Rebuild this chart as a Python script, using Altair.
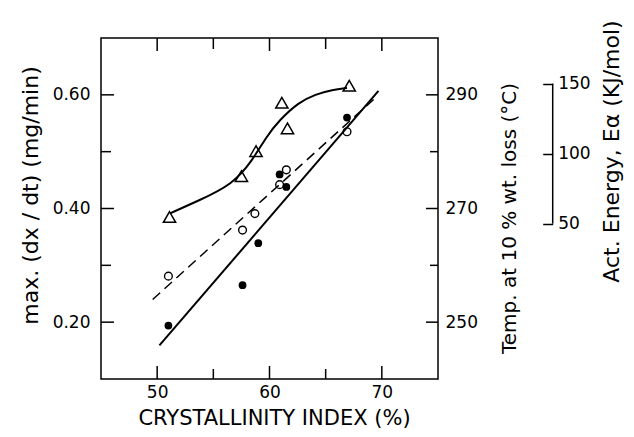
import altair as alt
import pandas as pd

# ---------------- data ----------------
tri_x = [51.1, 57.5, 58.8, 61.1, 61.6, 67.1]
tri_y = [0.385, 0.457, 0.501, 0.586, 0.541, 0.616]

filled_x = [51.0, 57.6, 59.0, 60.9, 61.5, 66.9]
filled_y = [0.194, 0.265, 0.339, 0.460, 0.438, 0.560]

open_x = [51.0, 57.6, 58.7, 60.9, 61.5, 66.9]
open_y = [0.281, 0.362, 0.391, 0.442, 0.468, 0.535]

curve_x = [51.2, 53.7, 56.7, 58.5, 59.7, 60.9, 62.6, 64.1, 65.6, 66.9]
curve_y = [0.392, 0.414, 0.442, 0.485, 0.526, 0.556, 0.587, 0.601, 0.609, 0.612]

solid_x = [50.2, 69.7]
solid_y = [0.159, 0.607]

dash_x = [49.6, 69.5]
dash_y = [0.240, 0.596]

x_major = [50, 60, 70]
x_minor = [55, 65]
y_major = [0.20, 0.40, 0.60]
y_minor = [0.30, 0.50]
temp_major = [250, 270, 290]
temp_minor = [260, 280]
energy_ticks = [50, 100, 150]

# ---------------- layout ----------------
W, H = 337, 341
FONT = "DejaVu Sans"
LBL = 17

xs = alt.Scale(domain=[45, 75], nice=False, zero=False)
ys = alt.Scale(domain=[0.1, 0.7], nice=False, zero=False)
ts = alt.Scale(domain=[240, 300], nice=False, zero=False)
es = alt.Scale(domain=[-60.9, 182.6], nice=False, zero=False)

common = dict(labelFont=FONT, labelFontSize=LBL, labelColor="black",
              titleFont=FONT, titleFontWeight="normal",
              titleColor="black", grid=False, domain=False)

x_axis = alt.Axis(orient="bottom", values=x_major, format="d", ticks=False, labelPadding=5,
                  title="CRYSTALLINITY INDEX (%)", titleFontSize=21, titleX=173, titleY=45,
                  titleAlign="center", titleBaseline="alphabetic", **common)
y_axis = alt.Axis(orient="left", values=y_major, format=".2f", ticks=False,
                  labelPadding=11, title="max.  (dx / dt)  (mg/min)", titleFontSize=22,
                  titleAngle=270, titleX=-71, titleY=157, titleAlign="center",
                  titleBaseline="middle", **common)
t_axis = alt.Axis(orient="right", values=temp_major, format="d", ticks=False,
                  labelPadding=7, title="Temp. at 10 % wt. loss (°C)", titleFontSize=20,
                  titleAngle=270, titleX=71, titleY=180, titleAlign="center",
                  titleBaseline="middle", **common)
e_axis = alt.Axis(orient="right", offset=104.7, values=energy_ticks, format="d",
                  ticks=True, tickSize=10, tickWidth=1.5, tickColor="black",
                  labelPadding=5, title="Act. Energy, Eα (KJ/mol)", titleFontSize=22,
                  titleAngle=270, titleX=69, titleY=113, titleAlign="center",
                  titleBaseline="middle", **common)

XE = alt.X("x:Q", scale=xs, axis=x_axis)
YE = alt.Y("y:Q", scale=ys, axis=y_axis)

df_tri = pd.DataFrame({"x": tri_x, "y": tri_y})
df_fill = pd.DataFrame({"x": filled_x, "y": filled_y})
df_open = pd.DataFrame({"x": open_x, "y": open_y})
df_curve = pd.DataFrame({"x": curve_x, "y": curve_y})
df_solid = pd.DataFrame({"x": solid_x, "y": solid_y})
df_dash = pd.DataFrame({"x": dash_x, "y": dash_y})

curve = alt.Chart(df_curve).mark_line(color="black", strokeWidth=2, interpolate="basis").encode(x=XE, y=YE)
solid = alt.Chart(df_solid).mark_line(color="black", strokeWidth=2).encode(x=XE, y=YE)
dash = alt.Chart(df_dash).mark_line(color="black", strokeWidth=1.5, strokeDash=[10, 6]).encode(x=XE, y=YE)
tri = alt.Chart(df_tri).mark_point(shape="triangle-up", size=150, filled=False, color="black",
                                   strokeWidth=1.5, opacity=1).encode(x=XE, y=YE)
opn = alt.Chart(df_open).mark_point(shape="circle", size=60, filled=False, color="black",
                                    strokeWidth=1.4, opacity=1).encode(x=XE, y=YE)
fil = alt.Chart(df_fill).mark_point(shape="circle", size=60, filled=True, color="black",
                                    opacity=1).encode(x=XE, y=YE)

def xticks(vals, y0, y1):
    return alt.Chart(pd.DataFrame({"x": vals})).mark_rule(color="black", strokeWidth=1.5).encode(
        x=XE, y=alt.value(y0), y2=alt.value(y1))

def yticks(vals, x0, x1):
    return alt.Chart(pd.DataFrame({"y": vals})).mark_rule(color="black", strokeWidth=1.5).encode(
        y=YE, x=alt.value(x0), x2=alt.value(x1))

main = alt.layer(
    curve, solid, dash, tri, opn, fil,
    xticks(x_major, H - 13, H), xticks(x_minor, H - 10, H),
    xticks(x_major, 0, 13), xticks(x_minor, 0, 11),
    yticks(y_major, 0, 13), yticks(y_minor, 0, 10),
)

TE = alt.Y("t:Q", scale=ts, axis=t_axis)
temp = alt.layer(
    alt.Chart(pd.DataFrame({"t": temp_major})).mark_rule(color="black", strokeWidth=1.5).encode(
        y=TE, x=alt.value(W - 12), x2=alt.value(W)),
    alt.Chart(pd.DataFrame({"t": temp_minor})).mark_rule(color="black", strokeWidth=1.5).encode(
        y=TE, x=alt.value(W - 8), x2=alt.value(W)),
)

df_espan = pd.DataFrame({"lo": [min(energy_ticks)], "hi": [max(energy_ticks)]})
energy = alt.Chart(df_espan).mark_rule(color="black", strokeWidth=1.5).encode(
    y=alt.Y("lo:Q", scale=es, axis=e_axis), y2="hi:Q", x=alt.value(W + 114.7))

chart = alt.layer(main, temp, energy).resolve_scale(y="independent").properties(
    width=W, height=H,
    background="white",
    autosize=alt.AutoSizeParams(type="none"),
    padding={"left": 93, "top": 30, "right": 188, "bottom": 50},
).configure_view(stroke="black", strokeWidth=1.5)

chart.save("out.html", embed_options={"renderer": "svg", "actions": False})
